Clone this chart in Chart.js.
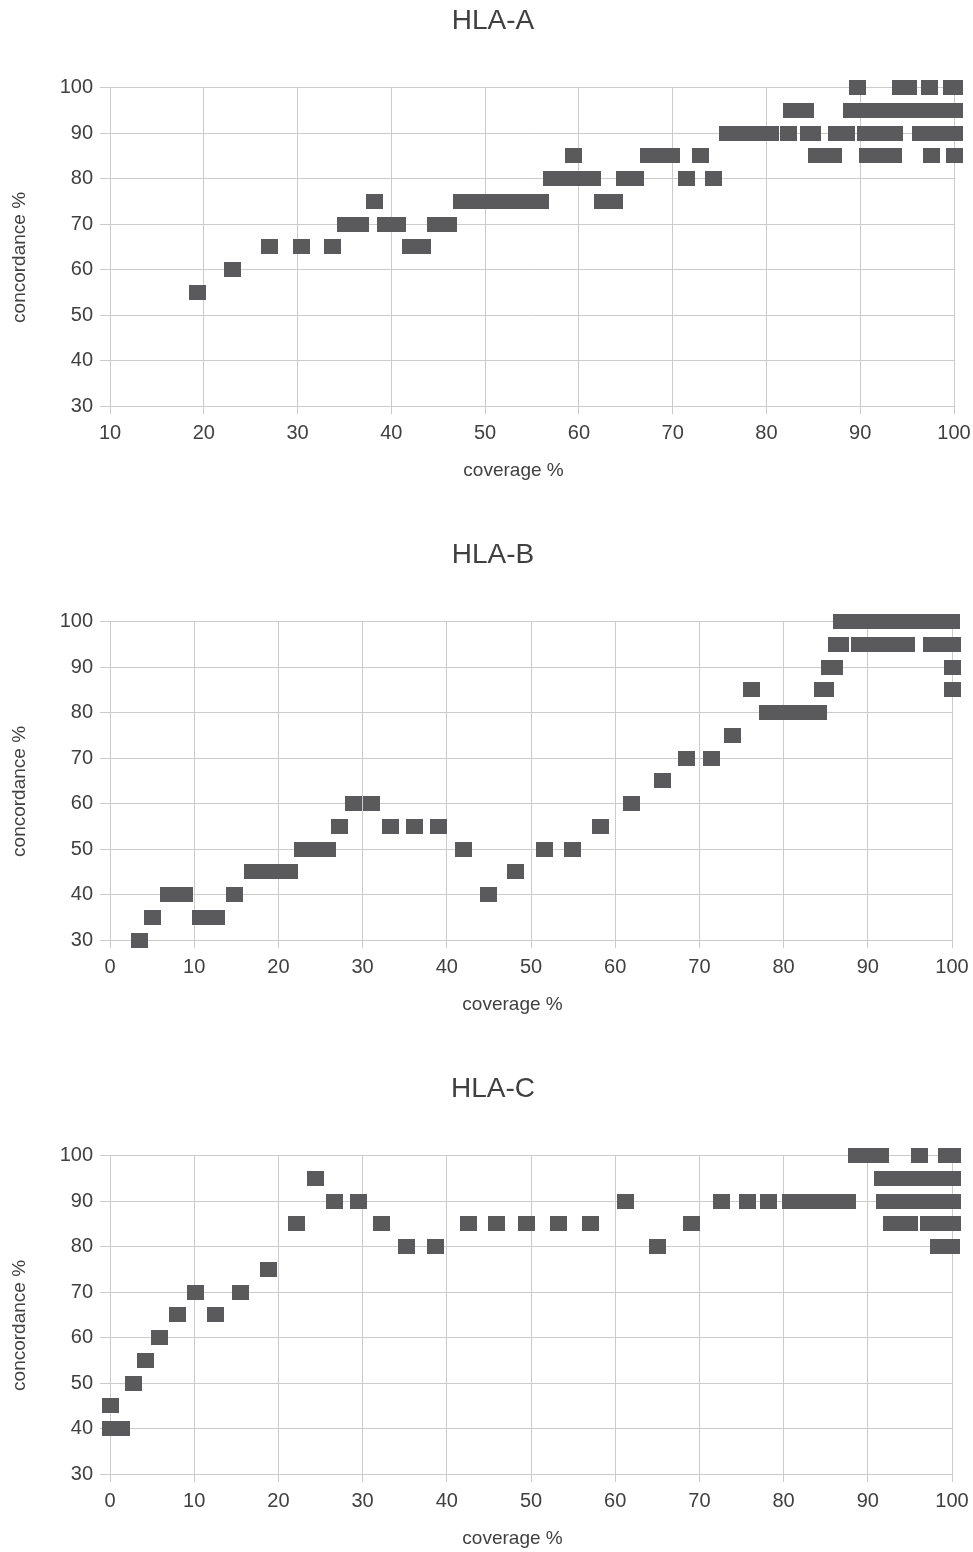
<!DOCTYPE html>
<html>
<head>
    <meta charset="UTF-8">
    <title>HLA concordance vs coverage</title>
    <script src="https://cdn.jsdelivr.net/npm/chart.js"></script>
    <style>
        body { margin: 0; background: #fff; }
        .box { position: absolute; left: 0; width: 973px; height: 484px; }
    </style>
</head>
<body>
    <div class="box" style="top:0"><canvas id="chartA"></canvas></div>
    <div class="box" style="top:534px"><canvas id="chartB"></canvas></div>
    <div class="box" style="top:1068px"><canvas id="chartC"></canvas></div>

    <script>
        // tick labels
        const yTicks = [30, 40, 50, 60, 70, 80, 90, 100];

        // HLA-A : coverage % / concordance % (one line per concordance level)
        const hlaACoverage = [
            19.3,
            23.1,
            27.0, 30.4, 33.7, 42.0, 43.3,
            35.1, 36.7, 39.4, 40.7, 44.7, 46.1,
            38.2, 47.5, 48.9, 50.5, 52.1, 53.7, 55.3, 55.9, 62.5, 63.8,
            57.1, 58.3, 59.6, 61.4, 64.9, 66.0, 71.5, 74.4,
            59.4, 67.4, 68.6, 69.9, 73.0, 85.3, 86.3, 87.1, 90.8, 92.0, 93.6, 97.6, 100,
            75.8, 77.2, 78.8, 80.4, 82.3, 84.5, 84.9, 87.5, 88.5, 90.6, 91.9, 93.7, 96.4, 97.8, 99.0, 100,
            82.7, 84.2, 89.1, 90.5, 92.0, 93.4, 95.0, 96.5, 98.0, 99.2, 100,
            89.7, 94.3, 95.2, 97.4, 99.7, 100
        ];
        const hlaAConcordance = [
            55,
            60,
            65, 65, 65, 65, 65,
            70, 70, 70, 70, 70, 70,
            75, 75, 75, 75, 75, 75, 75, 75, 75, 75,
            80, 80, 80, 80, 80, 80, 80, 80,
            85, 85, 85, 85, 85, 85, 85, 85, 85, 85, 85, 85, 85,
            90, 90, 90, 90, 90, 90, 90, 90, 90, 90, 90, 90, 90, 90, 90, 90,
            95, 95, 95, 95, 95, 95, 95, 95, 95, 95, 95,
            100, 100, 100, 100, 100, 100
        ];

        // HLA-B
        const hlaBCoverage = [
            3.5,
            5.1, 10.7, 11.6, 12.6,
            6.9, 8.8, 14.8, 44.9,
            16.9, 18.5, 20.2, 21.3, 48.2,
            22.9, 24.3, 25.8, 42.0, 51.6, 54.9,
            27.2, 33.3, 36.2, 39.0, 58.3,
            28.9, 31.0, 61.9,
            65.6,
            68.5, 71.4,
            73.9,
            78.1, 79.6, 81.0, 82.4, 84.1,
            76.2, 84.6, 85.0, 100,
            85.4, 86.0, 100,
            86.3, 86.7, 89.0, 90.3, 92.0, 93.6, 94.6, 97.6, 99.0, 100,
            86.9, 88.0, 89.0, 90.0, 91.0, 92.5, 94.0, 95.5, 97.0, 98.5, 99.9
        ];
        const hlaBConcordance = [
            30,
            35, 35, 35, 35,
            40, 40, 40, 40,
            45, 45, 45, 45, 45,
            50, 50, 50, 50, 50, 50,
            55, 55, 55, 55, 55,
            60, 60, 60,
            65,
            70, 70,
            75,
            80, 80, 80, 80, 80,
            85, 85, 85, 85,
            90, 90, 90,
            95, 95, 95, 95, 95, 95, 95, 95, 95, 95,
            100, 100, 100, 100, 100, 100, 100, 100, 100, 100, 100
        ];

        // HLA-C
        const hlaCCoverage = [
            0, 1.4,
            0,
            2.8,
            4.2,
            5.9,
            8.0, 12.5,
            10.1, 15.5,
            18.8,
            35.2, 38.7, 65.0, 98.4, 99.9,
            22.2, 32.2, 42.6, 45.9, 49.5, 53.3, 57.1, 69.1, 92.8, 93.9, 95.0, 97.2, 98.6, 100,
            26.7, 29.5, 61.2, 72.6, 75.7, 78.2, 80.8, 82.3, 83.7, 85.3, 86.5, 87.6, 92.0, 93.5, 95.0, 96.5, 98.0, 99.2, 100,
            24.4, 91.7, 93.0, 94.5, 96.0, 97.5, 99.0, 100,
            88.7, 90.1, 91.5, 96.1, 99.3, 100
        ];
        const hlaCConcordance = [
            40, 40,
            45,
            50,
            55,
            60,
            65, 65,
            70, 70,
            75,
            80, 80, 80, 80, 80,
            85, 85, 85, 85, 85, 85, 85, 85, 85, 85, 85, 85, 85, 85,
            90, 90, 90, 90, 90, 90, 90, 90, 90, 90, 90, 90, 90, 90, 90, 90, 90, 90, 90,
            95, 95, 95, 95, 95, 95, 95, 95,
            100, 100, 100, 100, 100, 100
        ];

        const FONT = "'Liberation Sans', Arial, sans-serif";
        const TEXT = '#404040';
        const GRID = '#cbcbcb';
        const MARK = '#5a5a5c';

        // the markers are small flat rectangles, not squares
        const marker = document.createElement('canvas');
        marker.width = 17;
        marker.height = 15;
        const mctx = marker.getContext('2d');
        mctx.fillStyle = MARK;
        mctx.fillRect(0, 0, 17, 15);

        function makeChart(id, title, cov, conc, xMin, rightPad) {
            const points = cov.map((x, i) => ({ x: x, y: conc[i] }));
            new Chart(document.getElementById(id), {
                type: 'scatter',
                data: {
                    datasets: [{
                        data: points,
                        pointStyle: marker,
                        pointRadius: 8,
                        pointHoverRadius: 8,
                        clip: false
                    }]
                },
                options: {
                    responsive: true,
                    maintainAspectRatio: false,
                    animation: false,
                    layout: { padding: { left: 13, right: 0, top: 0, bottom: 0 } },
                    plugins: {
                        legend: { display: false },
                        tooltip: { enabled: false },
                        title: {
                            display: true,
                            text: title,
                            color: TEXT,
                            font: { family: FONT, size: 28, weight: 'normal' },
                            padding: { top: 4, bottom: 50 }
                        }
                    },
                    scales: {
                        x: {
                            type: 'linear',
                            min: xMin,
                            max: 100,
                            afterFit: s => { s.paddingRight = rightPad; },
                            ticks: {
                                stepSize: 10,
                                color: TEXT,
                                padding: 7,
                                font: { family: FONT, size: 20 }
                            },
                            grid: { color: GRID, tickLength: 8 },
                            border: { color: GRID },
                            title: {
                                display: true,
                                text: 'coverage %       ',
                                color: TEXT,
                                font: { family: FONT, size: 19 },
                                padding: { top: 7, bottom: 2 }
                            }
                        },
                        y: {
                            type: 'linear',
                            min: yTicks[0],
                            max: yTicks[yTicks.length - 1],
                            afterBuildTicks: s => { s.ticks = yTicks.map(v => ({ value: v })); },
                            afterFit: s => { s.width = 97; },
                            ticks: {
                                color: TEXT,
                                padding: 7,
                                font: { family: FONT, size: 20 }
                            },
                            grid: { color: GRID, tickLength: 10 },
                            border: { color: GRID },
                            title: {
                                display: true,
                                text: 'concordance %    ',
                                color: TEXT,
                                font: { family: FONT, size: 19 },
                                padding: { top: -5, bottom: 0 }
                            }
                        }
                    }
                }
            });
        }

        makeChart('chartA', 'HLA-A', hlaACoverage, hlaAConcordance, 10, 19);
        makeChart('chartB', 'HLA-B', hlaBCoverage, hlaBConcordance, 0, 21);
        makeChart('chartC', 'HLA-C', hlaCCoverage, hlaCConcordance, 0, 21);
    </script>
</body>
</html>
